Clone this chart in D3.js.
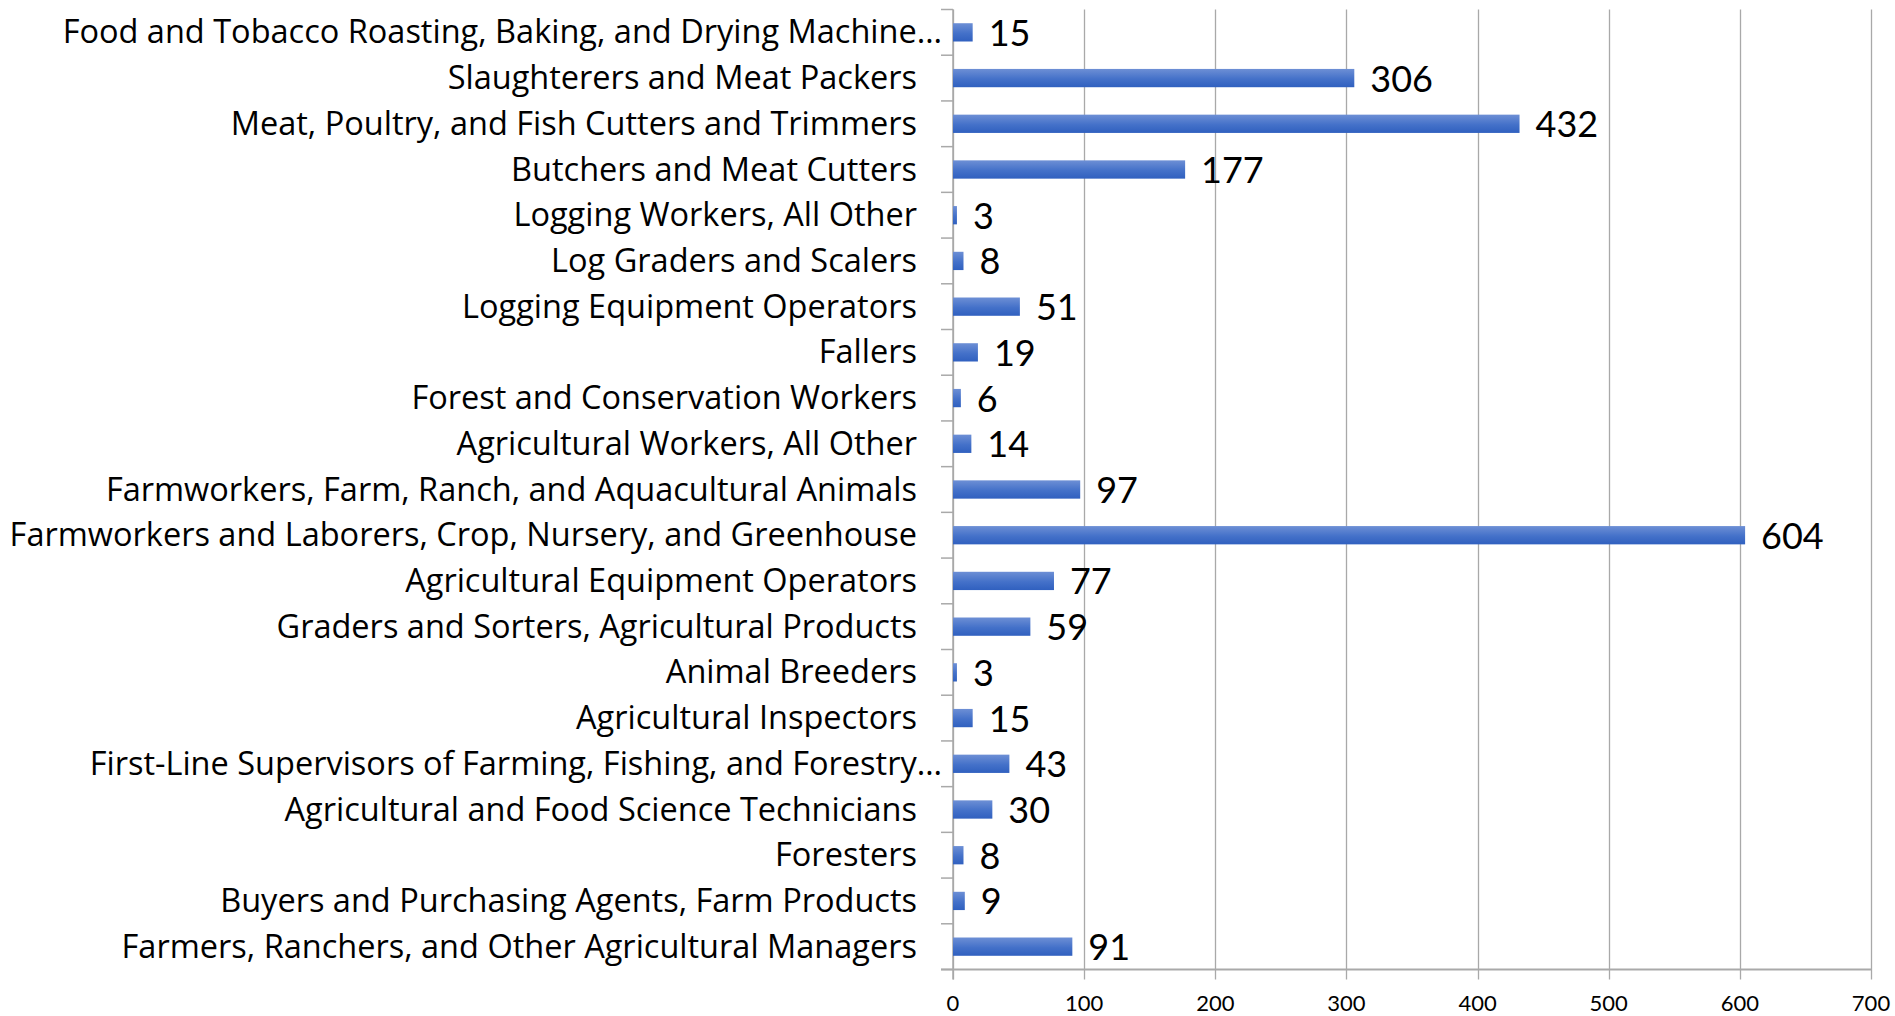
<!DOCTYPE html>
<html>
<head>
<meta charset="utf-8">
<script src="https://cdn.jsdelivr.net/npm/d3@7"></script>
<style>
  html, body { margin: 0; padding: 0; background: #fff; }
  svg { display: block; }
</style>
</head>
<body>
<svg id="chart" width="1895" height="1016"></svg>
<script>
// Occupations, listed top to bottom
const categories = [
  "Food and Tobacco Roasting, Baking, and Drying Machine…",
  "Slaughterers and Meat Packers",
  "Meat, Poultry, and Fish Cutters and Trimmers",
  "Butchers and Meat Cutters",
  "Logging Workers, All Other",
  "Log Graders and Scalers",
  "Logging Equipment Operators",
  "Fallers",
  "Forest and Conservation Workers",
  "Agricultural Workers, All Other",
  "Farmworkers, Farm, Ranch, and Aquacultural Animals",
  "Farmworkers and Laborers, Crop, Nursery, and Greenhouse",
  "Agricultural Equipment Operators",
  "Graders and Sorters, Agricultural Products",
  "Animal Breeders",
  "Agricultural Inspectors",
  "First-Line Supervisors of Farming, Fishing, and Forestry…",
  "Agricultural and Food Science Technicians",
  "Foresters",
  "Buyers and Purchasing Agents, Farm Products",
  "Farmers, Ranchers, and Other Agricultural Managers"
];
const values = [15, 306, 432, 177, 3, 8, 51, 19, 6, 14, 97, 604, 77, 59, 3, 15, 43, 30, 8, 9, 91];
const xTicks = [0, 100, 200, 300, 400, 500, 600, 700];

const svg = d3.select("#chart");
const plot = { left: 953, right: 1871, top: 9.5, bottom: 969.5 };
const labelFont = "'Open Sans', 'Noto Sans', sans-serif";
const numberFont = "Lato, 'Open Sans', sans-serif";
const gridColor = "#a9a9a9";

const x = d3.scaleLinear().domain([0, 700]).range([plot.left, plot.right]);
const y = d3.scaleBand().domain(categories).range([plot.top, plot.bottom]).paddingInner(0.6).paddingOuter(0.3);
const band = d3.scaleBand().domain(categories).range([plot.top, plot.bottom]);

// bar fill: lighter on top, deeper blue below
const grad = svg.append("defs").append("linearGradient")
  .attr("id", "barFill").attr("x1", 0).attr("y1", 0).attr("x2", 0).attr("y2", 1);
grad.append("stop").attr("offset", "0%").attr("stop-color", "#6d8fd5");
grad.append("stop").attr("offset", "55%").attr("stop-color", "#4471c9");
grad.append("stop").attr("offset", "100%").attr("stop-color", "#3060bf");

// vertical gridlines (with tick marks below the axis)
svg.append("g").selectAll("line").data(xTicks).join("line")
  .attr("x1", d => Math.round(x(d)) + 0.5).attr("x2", d => Math.round(x(d)) + 0.5)
  .attr("y1", plot.top).attr("y2", plot.bottom + 10)
  .attr("stroke", gridColor).attr("stroke-width", 1.3);

// category axis line and ticks at band boundaries
svg.append("line")
  .attr("x1", plot.left).attr("x2", plot.left)
  .attr("y1", plot.top).attr("y2", plot.bottom + 10)
  .attr("stroke", gridColor).attr("stroke-width", 1.5);
const boundaries = categories.map(c => band(c)).concat([plot.bottom]);
svg.append("g").selectAll("line").data(boundaries).join("line")
  .attr("x1", plot.left - 12).attr("x2", plot.left)
  .attr("y1", d => d).attr("y2", d => d)
  .attr("stroke", gridColor).attr("stroke-width", 1.5);

// value axis line
svg.append("line")
  .attr("x1", plot.left - 12).attr("x2", plot.right)
  .attr("y1", plot.bottom).attr("y2", plot.bottom)
  .attr("stroke", gridColor).attr("stroke-width", 1.8);

// bars
svg.append("g").selectAll("rect").data(categories).join("rect")
  .attr("x", x(0))
  .attr("y", c => y(c))
  .attr("width", (c, i) => x(values[i]) - x(0))
  .attr("height", y.bandwidth())
  .attr("fill", "url(#barFill)");

// value labels
svg.append("g").selectAll("text").data(categories).join("text")
  .attr("x", (c, i) => x(values[i]) + 16)
  .attr("y", c => band(c) + band.bandwidth() / 2 + 13.5)
  .attr("font-family", numberFont).attr("font-size", 36)
  .attr("fill", "#000")
  .text((c, i) => values[i]);

// category labels (truncated names run a little further right)
svg.append("g").selectAll("text").data(categories).join("text")
  .attr("x", c => c.endsWith("…") ? 942 : 917)
  .attr("y", c => band(c) + band.bandwidth() / 2 + 11)
  .attr("text-anchor", "end")
  .attr("font-family", labelFont).attr("font-size", 32.5)
  .attr("fill", "#000")
  .text(c => c);

// value axis tick labels
svg.append("g").selectAll("text").data(xTicks).join("text")
  .attr("x", d => x(d))
  .attr("y", 1011)
  .attr("text-anchor", "middle")
  .attr("font-family", numberFont).attr("font-size", 22)
  .attr("fill", "#000")
  .text(d => d);
</script>
</body>
</html>
